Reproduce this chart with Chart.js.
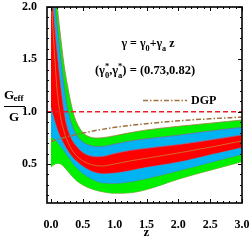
<!DOCTYPE html>
<html>
<head>
<meta charset="utf-8">
<script src="https://cdn.jsdelivr.net/npm/chart.js@4"></script>
<style>
html, body { margin: 0; padding: 0; background: #fff; }
#wrap { width: 249px; height: 241px; }
</style>
</head>
<body>
<div id="wrap"><canvas id="c" width="249" height="241"></canvas></div>
<script>
// redshift grid shared by all curves
const zs = [0, 0.05, 0.1, 0.15, 0.2, 0.25, 0.3, 0.35, 0.4, 0.5, 0.6, 0.7, 0.8, 1.0, 1.25, 1.5, 2.0, 2.5, 3.0];

// best fit and band edges of Geff/G
const bestFit  = [2.12, 1.6, 1.18, 0.95, 0.82, 0.73, 0.665, 0.615, 0.58, 0.53, 0.5, 0.485, 0.48, 0.5, 0.53, 0.555, 0.605, 0.66, 0.72];
const sig1Up   = [2.3, 1.88, 1.55, 1.26, 1.02, 0.86, 0.77, 0.71, 0.67, 0.61, 0.58, 0.57, 0.572, 0.6, 0.63, 0.65, 0.685, 0.73, 0.777];
const sig1Down = [1.05, 0.94, 0.84, 0.76, 0.70, 0.645, 0.6, 0.56, 0.53, 0.48, 0.445, 0.42, 0.41, 0.415, 0.44, 0.47, 0.52, 0.59, 0.66];
const sig2Up   = [2.45, 2.08, 1.8, 1.52, 1.27, 1.06, 0.93, 0.84, 0.78, 0.71, 0.68, 0.668, 0.668, 0.69, 0.72, 0.74, 0.775, 0.815, 0.85];
const sig2Down = [0.76, 0.74, 0.71, 0.67, 0.63, 0.585, 0.545, 0.5, 0.465, 0.41, 0.37, 0.34, 0.32, 0.315, 0.33, 0.36, 0.435, 0.515, 0.593];
const sig3Up   = [2.75, 2.33, 2.0, 1.72, 1.47, 1.28, 1.12, 0.99, 0.9, 0.8, 0.76, 0.748, 0.75, 0.77, 0.8, 0.825, 0.86, 0.89, 0.92];
const sig3Down = [0.47, 0.495, 0.505, 0.5, 0.475, 0.44, 0.405, 0.37, 0.34, 0.3, 0.27, 0.25, 0.235, 0.22, 0.225, 0.255, 0.355, 0.44, 0.522];

// DGP prediction
const dgpZ   = [0, 0.25, 0.5, 0.75, 1.0, 1.5, 2.0, 2.5, 3.0];
const dgpVal = [0.715, 0.76, 0.795, 0.825, 0.85, 0.885, 0.912, 0.932, 0.948];

// GR reference
const grZ   = [-0.063, 3.0];
const grVal = [1.0, 1.0];

const xTicks = [0, 0.5, 1.0, 1.5, 2.0, 2.5, 3.0];
const yTicks = [0.5, 1.0, 1.5, 2.0];

const pts = (xs, ys) => xs.map((x, i) => ({ x: x, y: ys[i] }));

function band(data, border, fillTo, color) {
    return {
        data: pts(zs, data),
        borderColor: border,
        borderWidth: 0.8,
        backgroundColor: color,
        fill: fillTo,
        pointRadius: 0,
        cubicInterpolationMode: 'monotone'
    };
}

// draw text pieces with sub / superscripts
function richText(ctx, parts, cx, cy, size) {
    const measure = p => {
        ctx.font = 'bold ' + (p.s ? size * 0.68 : size) + 'px "Liberation Serif"';
        return ctx.measureText(p.t).width;
    };
    let w = 0;
    parts.forEach(p => { if (!p.keep) w += measure(p); });
    let x = cx - w / 2;
    ctx.textBaseline = 'alphabetic';
    ctx.textAlign = 'left';
    parts.forEach(p => {
        const pw = measure(p);
        let dy = 0;
        if (p.s === 'sub') dy = size * 0.3;
        if (p.s === 'sup') dy = -size * 0.38;
        ctx.fillText(p.t, x, cy + dy);
        if (!p.keep) x += pw;
    });
}

const decor = {
    id: 'decor',
    afterDatasetsDraw(chart) {
        const { ctx, chartArea: a, scales: { x, y } } = chart;
        ctx.save();
        ctx.strokeStyle = '#000';
        ctx.lineWidth = 1;
        ctx.beginPath();
        for (let i = 0; i <= 30; i++) {
            const px = Math.round(x.getPixelForValue(i / 10)) + 0.5;
            const len = i % 5 === 0 ? 4 : 2;
            ctx.moveTo(px, a.bottom); ctx.lineTo(px, a.bottom - len);
            ctx.moveTo(px, a.top); ctx.lineTo(px, a.top + len);
        }
        for (let i = 2; i <= 20; i++) {
            const py = Math.round(y.getPixelForValue(i / 10)) + 0.5;
            const len = i % 5 === 0 ? 4 : 2;
            ctx.moveTo(a.left, py); ctx.lineTo(a.left + len, py);
            ctx.moveTo(a.right, py); ctx.lineTo(a.right - len, py);
        }
        ctx.stroke();
        ctx.lineWidth = 1.6;
        ctx.strokeRect(a.left, a.top, a.right - a.left, a.bottom - a.top);

        // annotations
        ctx.fillStyle = '#000';
        richText(ctx, [
            { t: 'γ = γ' }, { t: '0', s: 'sub' }, { t: '+γ' }, { t: 'a', s: 'sub' }, { t: ' z' }
        ], 148, 47, 12);
        richText(ctx, [
            { t: '(γ' }, { t: '*', s: 'sup', keep: true }, { t: '0', s: 'sub' }, { t: ',γ' },
            { t: '*', s: 'sup', keep: true }, { t: 'a', s: 'sub' }, { t: ') = (0.73,0.82)' }
        ], 145, 74, 12.5);

        // DGP legend
        ctx.strokeStyle = '#a0703c';
        ctx.lineWidth = 1.5;
        ctx.setLineDash([5, 2, 1.5, 2]);
        ctx.beginPath();
        ctx.moveTo(143, 100.5); ctx.lineTo(187, 100.5);
        ctx.stroke();
        ctx.setLineDash([]);
        ctx.font = 'bold 12px "Liberation Serif"';
        ctx.textAlign = 'left';
        ctx.textBaseline = 'middle';
        ctx.fillText('DGP', 191, 101);

        // x label
        ctx.font = 'bold 13px "Liberation Serif"';
        ctx.textAlign = 'center';
        ctx.textBaseline = 'middle';
        ctx.fillText('z', x.getPixelForValue(1.5), 233);

        // y label as a fraction
        ctx.textAlign = 'left';
        ctx.textBaseline = 'alphabetic';
        ctx.fillText('G', 4, 99);
        ctx.font = 'bold 9px "Liberation Serif"';
        ctx.fillText('eff', 13.5, 101);
        ctx.lineWidth = 1;
        ctx.strokeStyle = '#000';
        ctx.beginPath();
        ctx.moveTo(4, 106.5); ctx.lineTo(25, 106.5);
        ctx.stroke();
        ctx.font = 'bold 13px "Liberation Serif"';
        ctx.textAlign = 'center';
        ctx.fillText('G', 14, 121);
        ctx.restore();
    }
};

const tickFont = { family: '"Liberation Serif"', size: 12, weight: 'bold' };

new Chart(document.getElementById('c'), {
    type: 'line',
    data: {
        datasets: [
            { data: pts(grZ, grVal), borderColor: '#ee1c24', borderWidth: 1.5, borderDash: [5, 3], pointRadius: 0, fill: false },
            { data: pts(dgpZ, dgpVal), borderColor: '#a0703c', borderWidth: 1.5, borderDash: [5, 2, 1.5, 2], pointRadius: 0, fill: false, cubicInterpolationMode: 'monotone' },
            { data: pts(zs, bestFit), borderColor: '#c8823c', borderWidth: 0.8, pointRadius: 0, fill: false, cubicInterpolationMode: 'monotone' },
            band(sig1Up, '#9a6a8a', 4, '#ff0000'),
            band(sig1Down, '#9a6a8a', false, 'transparent'),
            band(sig2Up, '#7a6aa8', 6, '#00b4f4'),
            band(sig2Down, '#7a6aa8', false, 'transparent'),
            band(sig3Up, '#a08048', 8, '#00f000'),
            band(sig3Down, '#a08048', false, 'transparent')
        ]
    },
    options: {
        responsive: false,
        animation: false,
        events: [],
        layout: { padding: { top: 7, right: 7, left: 0, bottom: 0 } },
        plugins: { legend: { display: false }, tooltip: { enabled: false } },
        scales: {
            x: {
                type: 'linear',
                min: -0.063,
                max: 3.0,
                afterBuildTicks: s => { s.ticks = xTicks.map(v => ({ value: v })); },
                afterFit: s => { s.height = 38; s.paddingLeft = 0; s.paddingRight = 0; },
                grid: { display: false },
                border: { display: false },
                ticks: { font: tickFont, color: '#000', padding: 7, maxRotation: 0, autoSkip: false, callback: v => v.toFixed(1) }
            },
            y: {
                min: 0.127,
                max: 2.0,
                afterBuildTicks: s => { s.ticks = yTicks.map(v => ({ value: v })); },
                afterFit: s => { s.width = 47; s.paddingTop = 0; s.paddingBottom = 0; },
                grid: { display: false },
                border: { display: false },
                ticks: { font: tickFont, color: '#000', padding: 2, autoSkip: false, callback: v => v.toFixed(1) }
            }
        }
    },
    plugins: [decor]
});
</script>
</body>
</html>
